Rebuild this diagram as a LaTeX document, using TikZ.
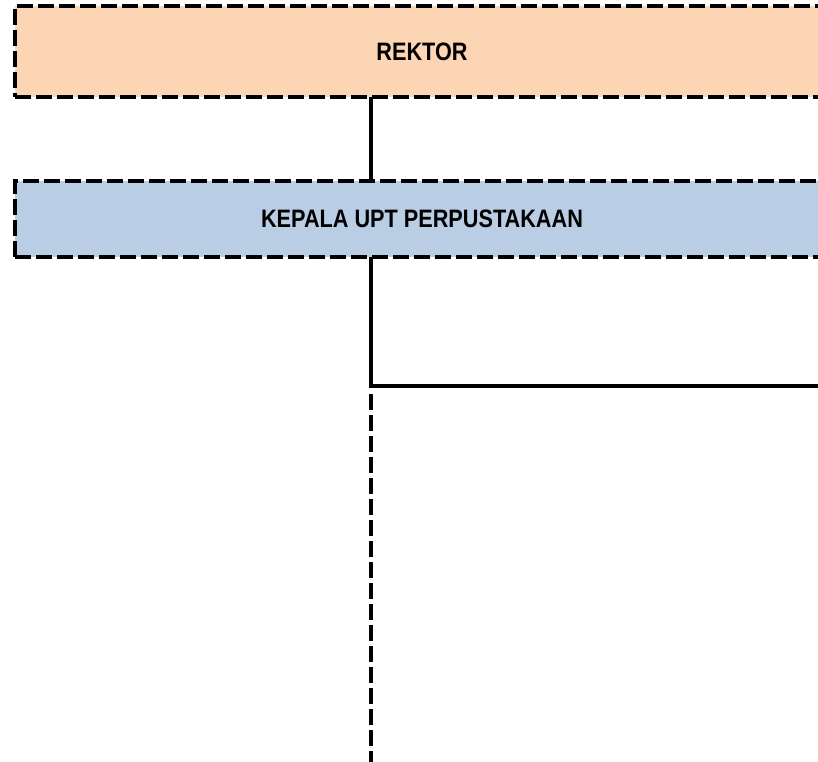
\documentclass[tikz,border=0pt]{standalone}
\usepackage{fontspec}
\newfontfamily\orgfont[FakeStretch=0.86]{Liberation Sans}
\definecolor{peachfill}{RGB}{252,213,181}
\definecolor{bluefill}{RGB}{185,205,229}
\begin{document}
\begin{tikzpicture}[x=1pt,y=1pt,
  orgbox/.style={draw=black,line width=4pt,dash pattern=on 16pt off 5pt,
    minimum width=814pt,inner sep=0pt,outer sep=0pt,
    font=\orgfont\bfseries\fontsize{25.2}{30}\selectfont},
  link/.style={draw=black,line width=4pt},
  dashlink/.style={draw=black,line width=4pt,dash pattern=on 16pt off 5pt}]
\useasboundingbox (0,0) rectangle (818,-761);
\clip (0,0) rectangle (818,-761);
\node[orgbox,fill=peachfill,minimum height=91pt] (rektor) at (422,-51.5) {REKTOR};
\node[orgbox,fill=bluefill,minimum height=76pt] (kepala) at (422,-219) {KEPALA UPT PERPUSTAKAAN};
\coordinate (j) at (371,-386);
\coordinate (e) at (830,-386);
\coordinate (d) at (371,-394);
\coordinate (b) at (371,-765);
\draw[link] (rektor.south -| j) -- (kepala.north -| j);
\draw[link] (kepala.south -| j) -- (j) -- (e);
\draw[dashlink] (d) -- (b);
\end{tikzpicture}
\end{document}
